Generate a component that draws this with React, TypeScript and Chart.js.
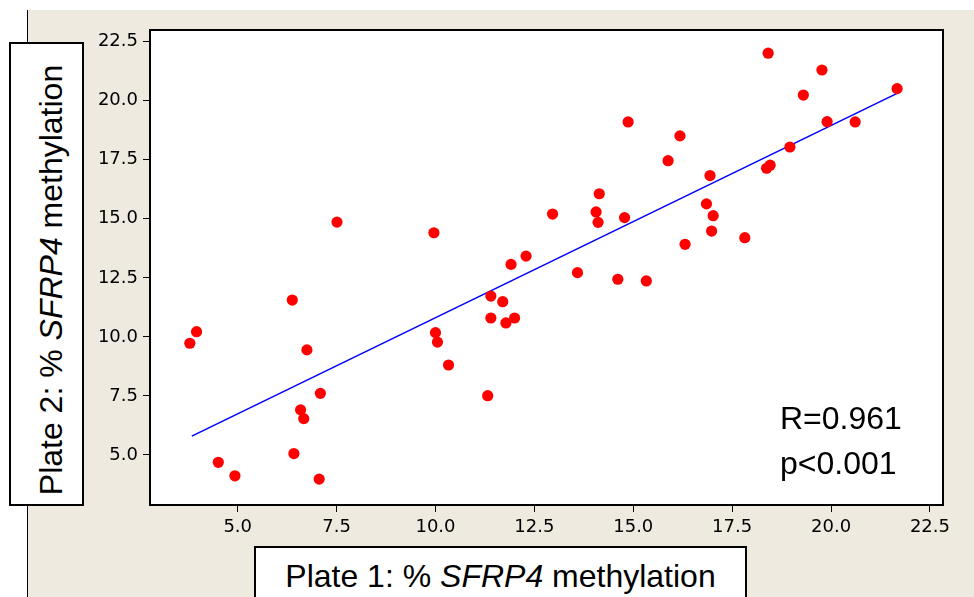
import React, { useEffect, useRef } from 'react';
import { Chart, registerables } from 'chart.js';

Chart.register(...registerables);

// Plate 1 (% SFRP4 methylation) vs Plate 2 (% SFRP4 methylation)
const PLATE1 = [
  3.79, 3.96, 4.51, 4.93, 6.38, 6.42, 6.59, 6.67, 6.75, 7.06,
  7.09, 7.51, 9.96, 10.0, 10.05, 10.33, 11.32, 11.4, 11.4, 11.7,
  11.78, 11.91, 12.0, 12.29, 12.96, 13.59, 14.06, 14.11, 14.14, 14.61,
  14.78, 14.87, 15.33, 15.88, 16.18, 16.31, 16.85, 16.94, 16.98, 17.02,
  17.82, 18.37, 18.46, 18.41, 18.96, 19.3, 19.77, 19.9, 20.61, 21.67,
];
const PLATE2 = [
  9.73, 10.22, 4.69, 4.12, 11.56, 5.06, 6.91, 6.54, 9.45, 3.98,
  7.61, 14.86, 14.41, 10.18, 9.78, 8.81, 7.51, 11.73, 10.8, 11.49,
  10.59, 13.07, 10.8, 13.42, 15.2, 12.72, 15.29, 14.85, 16.06, 12.44,
  15.05, 19.1, 12.37, 17.46, 18.51, 13.92, 15.63, 16.83, 14.48, 15.13,
  14.2, 17.14, 17.27, 22.01, 18.04, 20.24, 21.3, 19.11, 19.1, 20.51,
];
const FIT_X = [3.84, 21.67];
const FIT_Y = [5.8, 20.31];
const TICKS = [5, 7.5, 10, 12.5, 15, 17.5, 20, 22.5];
const X_RANGE = [2.783, 22.83];
const Y_RANGE = [2.883, 22.993];
const STATS = ['R=0.961', 'p<0.001'];

const BEIGE = '#EEEAE0';
const TICK_FONT = { family: "'DejaVu Sans', sans-serif", size: 18 };
const LABEL_FONT = "'Liberation Sans', Arial, sans-serif";

const framePlugin = {
  id: 'frame',
  beforeDraw(chart: any) {
    const { ctx, chartArea: a, width, height } = chart;
    ctx.save();
    ctx.fillStyle = '#ffffff';
    ctx.fillRect(0, 0, width, height);
    ctx.fillStyle = BEIGE;
    ctx.fillRect(27, 10, width - 27, height - 10);
    ctx.strokeStyle = '#000';
    ctx.lineWidth = 1;
    ctx.beginPath();
    ctx.moveTo(27.5, 10);
    ctx.lineTo(27.5, height);
    ctx.stroke();
    ctx.fillStyle = '#ffffff';
    ctx.fillRect(a.left, a.top, a.right - a.left, a.bottom - a.top);
    ctx.restore();
  },
  afterDraw(chart: any) {
    const { ctx, chartArea: a } = chart;
    ctx.save();
    ctx.strokeStyle = '#000';
    ctx.lineWidth = 2;
    ctx.strokeRect(a.left, a.top, a.right - a.left, a.bottom - a.top);
    ctx.restore();
  },
};

export default function App() {
  const ref = useRef<HTMLCanvasElement | null>(null);

  useEffect(() => {
    if (!ref.current) return;
    const points = PLATE1.map((x, i) => ({ x, y: PLATE2[i] }));
    const fit = FIT_X.map((x, i) => ({ x, y: FIT_Y[i] }));
    const axisCommon = (isX: boolean) => ({
      type: 'linear' as const,
      min: isX ? X_RANGE[0] : Y_RANGE[0],
      max: isX ? X_RANGE[1] : Y_RANGE[1],
      afterBuildTicks: (s: any) => {
        s.ticks = TICKS.map((v) => ({ value: v }));
      },
      afterFit: (s: any) => {
        if (isX) s.height = 92;
        else s.width = 150;
      },
      border: { display: false },
      grid: {
        display: true,
        drawOnChartArea: false,
        drawTicks: true,
        tickLength: 7,
        color: '#000',
        lineWidth: 1,
      },
      ticks: {
        color: '#000',
        font: TICK_FONT,
        padding: 5,
        maxRotation: 0,
        autoSkip: false,
        callback: (v: any) => Number(v).toFixed(1),
      },
    });
    const chart = new Chart(ref.current, {
      type: 'scatter',
      data: {
        datasets: [
          {
            label: 'Samples',
            data: points,
            backgroundColor: '#FF0000',
            borderWidth: 0,
            pointRadius: 5.6,
            pointHoverRadius: 5.6,
          },
          {
            label: 'Fit',
            data: fit,
            showLine: true,
            borderColor: '#0000FF',
            borderWidth: 1.6,
            pointRadius: 0,
            fill: false,
          } as any,
        ],
      },
      options: {
        animation: false,
        responsive: false,
        maintainAspectRatio: false,
        events: [],
        layout: { padding: { top: 30, right: 31, left: 0, bottom: 0 } },
        plugins: {
          legend: { display: false },
          tooltip: { enabled: false },
          title: { display: false },
        },
        scales: {
          x: axisCommon(true) as any,
          y: axisCommon(false) as any,
        },
      },
      plugins: [framePlugin],
    });
    return () => chart.destroy();
  }, []);

  const labelStyle: React.CSSProperties = {
    fontFamily: LABEL_FONT,
    fontSize: 32,
    lineHeight: '32px',
    color: '#000',
    whiteSpace: 'nowrap',
  };

  return (
    <div style={{ position: 'fixed', left: 0, top: 0, width: 974, height: 597, overflow: 'hidden' }}>
      <canvas ref={ref} width={974} height={597} style={{ position: 'absolute', left: 0, top: 0, width: 974, height: 597 }} />
      {/* Y axis title box */}
      <div
        style={{
          position: 'absolute',
          left: 9,
          top: 42,
          width: 75,
          height: 464,
          boxSizing: 'border-box',
          border: '2px solid #000',
          background: '#fff',
        }}
      >
        <span
          style={{
            ...labelStyle,
            position: 'absolute',
            left: 49 - 9,
            top: 278 - 42,
            transform: 'translate(-50%, -50%) rotate(-90deg)',
          }}
        >
          Plate 2: % <i>SFRP4</i> methylation
        </span>
      </div>
      {/* X axis title box */}
      <div
        style={{
          position: 'absolute',
          left: 254,
          top: 546,
          width: 493,
          height: 70,
          boxSizing: 'border-box',
          border: '2px solid #000',
          background: '#fff',
        }}
      >
        <div style={{ ...labelStyle, position: 'absolute', left: 0, right: 0, top: 560 - 548, textAlign: 'center' }}>
          Plate 1: % <i>SFRP4</i> methylation
        </div>
      </div>
      {/* Statistics */}
      <div style={{ ...labelStyle, position: 'absolute', left: 780, top: 402 }}>{STATS[0]}</div>
      <div style={{ ...labelStyle, position: 'absolute', left: 780, top: 447 }}>{STATS[1]}</div>
    </div>
  );
}
